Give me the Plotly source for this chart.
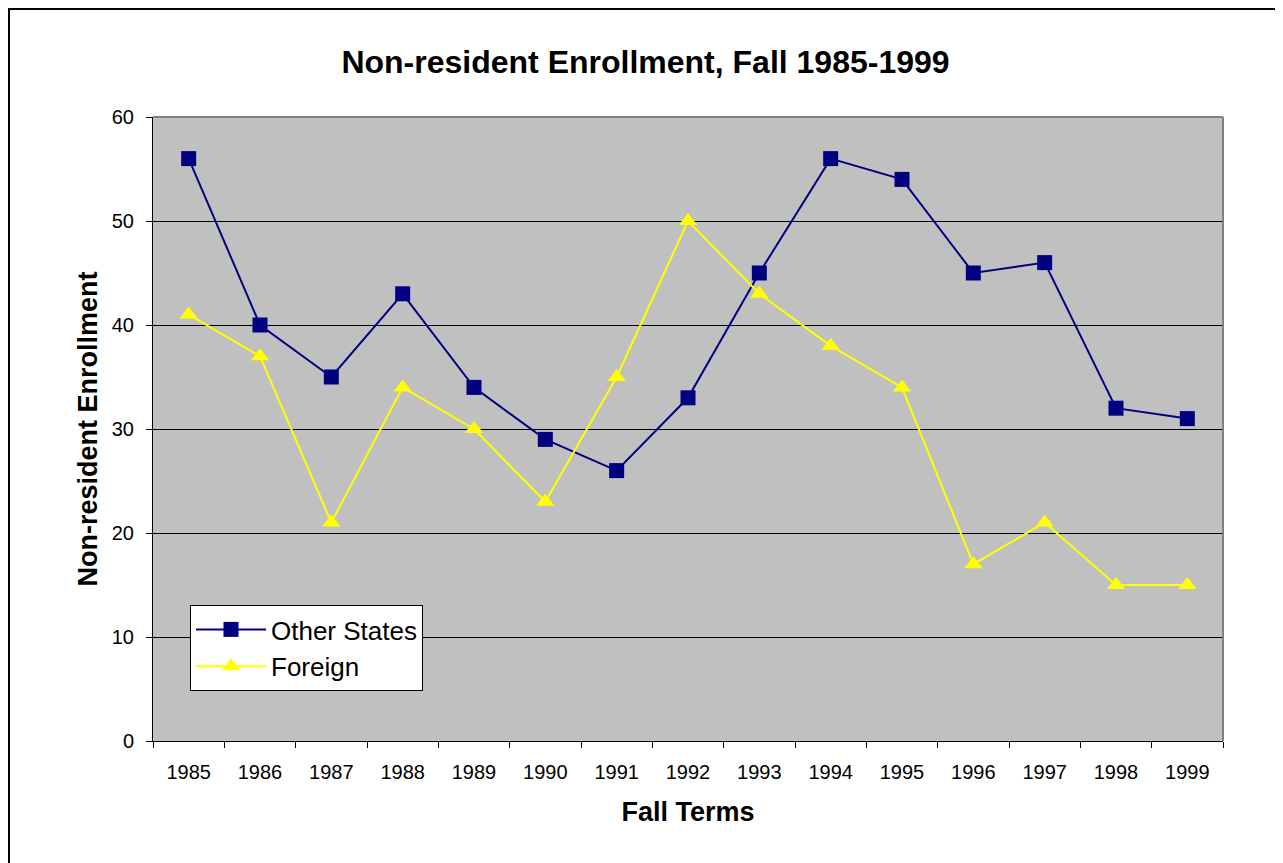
import plotly.graph_objects as go

years = ["1985", "1986", "1987", "1988", "1989", "1990", "1991", "1992",
         "1993", "1994", "1995", "1996", "1997", "1998", "1999"]
other_states = [56, 40, 35, 43, 34, 29, 26, 33, 45, 56, 54, 45, 46, 32, 31]
foreign = [41, 37, 21, 34, 30, 23, 35, 50, 43, 38, 34, 17, 21, 15, 15]

fig = go.Figure()
fig.add_trace(go.Scatter(x=years, y=other_states, name="Other States", mode="lines+markers",
                         line=dict(color="#000080", width=2),
                         marker=dict(symbol="square", size=15, color="#000080")))
fig.add_trace(go.Scatter(x=years, y=foreign, name="Foreign", mode="lines+markers",
                         line=dict(color="#FFFF00", width=2),
                         marker=dict(symbol="triangle-up", size=16, color="#FFFF00")))

fig.update_layout(
    width=1275, height=855,
    margin=dict(l=145, r=60, t=109, b=122),
    paper_bgcolor="white", plot_bgcolor="#C0C0C0",
    font=dict(family="Arial, Liberation Sans", color="black"),
    title=dict(text="<b>Non-resident Enrollment, Fall 1985-1999</b>", x=0.5, xanchor="center",
               y=1 - 54 / 855, yanchor="middle", font=dict(size=32)),
    legend=dict(x=37 / 1070, y=(733 - 597) / 624, xanchor="left", yanchor="top",
                bgcolor="white", bordercolor="black", borderwidth=1,
                font=dict(size=26), itemwidth=70, tracegroupgap=0,
                entrywidth=238, entrywidthmode="pixels"),
    showlegend=True,
)
fig.update_xaxes(type="category", tickson="boundaries", ticks="outside", ticklen=6,
                 tickcolor="black", showline=True, linecolor="black", linewidth=1,
                 showgrid=False, tickfont=dict(size=20), ticklabelstandoff=13,
                 title=dict(text="<b>Fall Terms</b>", font=dict(size=27), standoff=20),
                 range=[-0.5, 14.5])
fig.update_yaxes(range=[0, 60], dtick=10, ticks="outside", ticklen=6, tickcolor="black",
                 showline=True, linecolor="black", linewidth=1,
                 showgrid=True, gridcolor="black", gridwidth=1, zeroline=False,
                 tickfont=dict(size=20), ticklabelstandoff=8,
                 title=dict(text="<b>Non-resident Enrollment</b>", font=dict(size=27), standoff=6))

# gray top/right plot edges
fig.add_shape(type="line", xref="paper", yref="paper", x0=0, x1=1, y0=1, y1=1,
              line=dict(color="#808080", width=2))
fig.add_shape(type="line", xref="paper", yref="paper", x0=1, x1=1, y0=0, y1=1,
              line=dict(color="#808080", width=2))
# outer chart border
fig.add_shape(type="rect", xref="paper", yref="paper",
              x0=(1 - 145) / 1070, x1=(1300 - 145) / 1070,
              y0=(733 - 880) / 624, y1=(733 - 1) / 624,
              line=dict(color="black", width=2), layer="below")

fig.write_html("out.html")
